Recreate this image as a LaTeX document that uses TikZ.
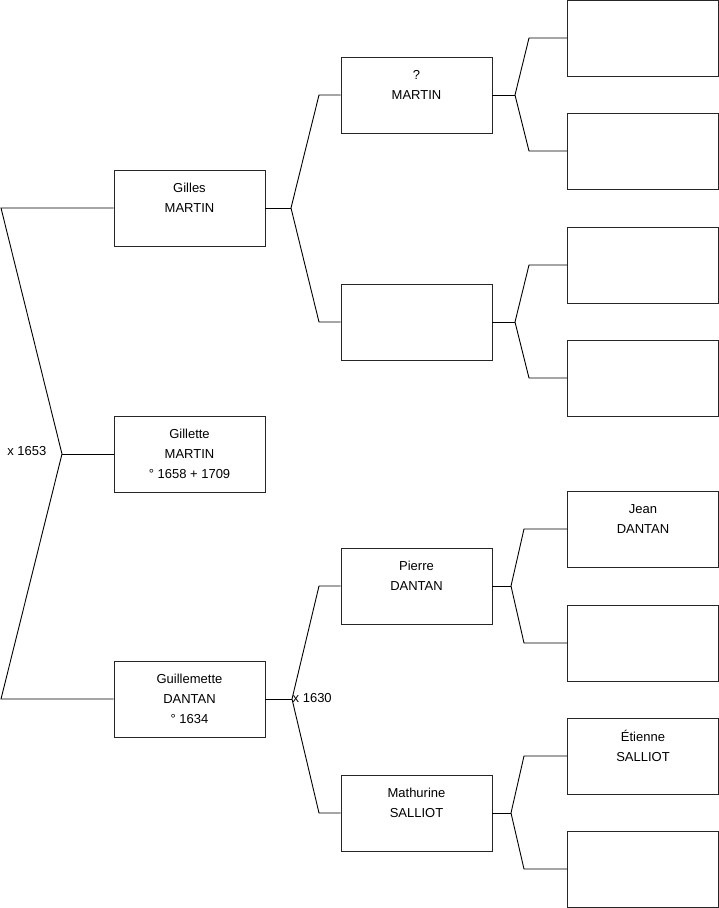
\documentclass[tikz,border=0pt]{standalone}
\usepackage{fontspec}
\setmainfont{Liberation Sans}
\begin{document}
\begin{tikzpicture}[x=1pt,y=-1pt,
  person/.style={draw=black!85,line width=0.9pt,minimum width=151pt,minimum height=76pt,
    inner sep=0pt,align=center,font=\fontsize{13}{20}\selectfont,anchor=center},
  link/.style={draw=black,line width=0.9pt},
  mlabel/.style={font=\fontsize{13}{14}\selectfont,inner sep=0pt}]
\useasboundingbox (0,0) rectangle (719,908);
% generation 1
\node[person] (gilles) at (189.5,208) {Gilles\\MARTIN\\\mbox{}};
\node[person] (gillette) at (189.5,454) {Gillette\\MARTIN\\° 1658 + 1709};
\node[person] (guillemette) at (189.5,699) {Guillemette\\DANTAN\\° 1634};
% generation 2
\node[person] (qmartin) at (416.5,95) {?\\MARTIN\\\mbox{}};
\node[person] (g2b) at (416.5,322) {};
\node[person] (pierre) at (416.5,586) {Pierre\\DANTAN\\\mbox{}};
\node[person] (mathurine) at (416.5,813) {Mathurine\\SALLIOT\\\mbox{}};
% generation 3
\node[person] (a1) at (643,38) {};
\node[person] (a2) at (643,151) {};
\node[person] (a3) at (643,265) {};
\node[person] (a4) at (643,378) {};
\node[person] (jean) at (643,529) {Jean\\DANTAN\\\mbox{}};
\node[person] (a6) at (643,643) {};
\node[person] (etienne) at (643,756) {Étienne\\SALLIOT\\\mbox{}};
\node[person] (a8) at (643,869) {};
% junctions
\coordinate (j0) at (62,454);
\coordinate (j0t) at (1,208);
\coordinate (j0b) at (1,699);
\coordinate (j1) at (291,208);
\coordinate (j1t) at (319,95);
\coordinate (j1b) at (319,322);
\coordinate (j2) at (292,699);
\coordinate (j2t) at (319,586);
\coordinate (j2b) at (319,813);
\coordinate (k1) at (515,95);
\coordinate (k1t) at (529,38);
\coordinate (k1b) at (529,151);
\coordinate (k2) at (515,322);
\coordinate (k2t) at (529,265);
\coordinate (k2b) at (529,378);
\coordinate (k3) at (511,586);
\coordinate (k3t) at (524,529);
\coordinate (k3b) at (524,643);
\coordinate (k4) at (511,813);
\coordinate (k4t) at (524,756);
\coordinate (k4b) at (524,869);
% connectors
\draw[link] (gilles.west) -- (j0t) -- (j0) -- (j0b) -- (guillemette.west);
\draw[link] (j0) -- (gillette.west);
\draw[link] (qmartin.west) -- (j1t) -- (j1) -- (j1b) -- (g2b.west);
\draw[link] (j1) -- (gilles.east);
\draw[link] (pierre.west) -- (j2t) -- (j2) -- (j2b) -- (mathurine.west);
\draw[link] (j2) -- (guillemette.east);
\draw[link] (a1.west) -- (k1t) -- (k1) -- (k1b) -- (a2.west);
\draw[link] (k1) -- (qmartin.east);
\draw[link] (a3.west) -- (k2t) -- (k2) -- (k2b) -- (a4.west);
\draw[link] (k2) -- (g2b.east);
\draw[link] (jean.west) -- (k3t) -- (k3) -- (k3b) -- (a6.west);
\draw[link] (k3) -- (pierre.east);
\draw[link] (etienne.west) -- (k4t) -- (k4) -- (k4b) -- (a8.west);
\draw[link] (k4) -- (mathurine.east);
% marriage labels
\node[mlabel,anchor=east] (m1653) at (46.5,451) {x 1653};
\node[mlabel,anchor=west] (m1630) at (292.5,698) {x 1630};
\end{tikzpicture}
\end{document}
